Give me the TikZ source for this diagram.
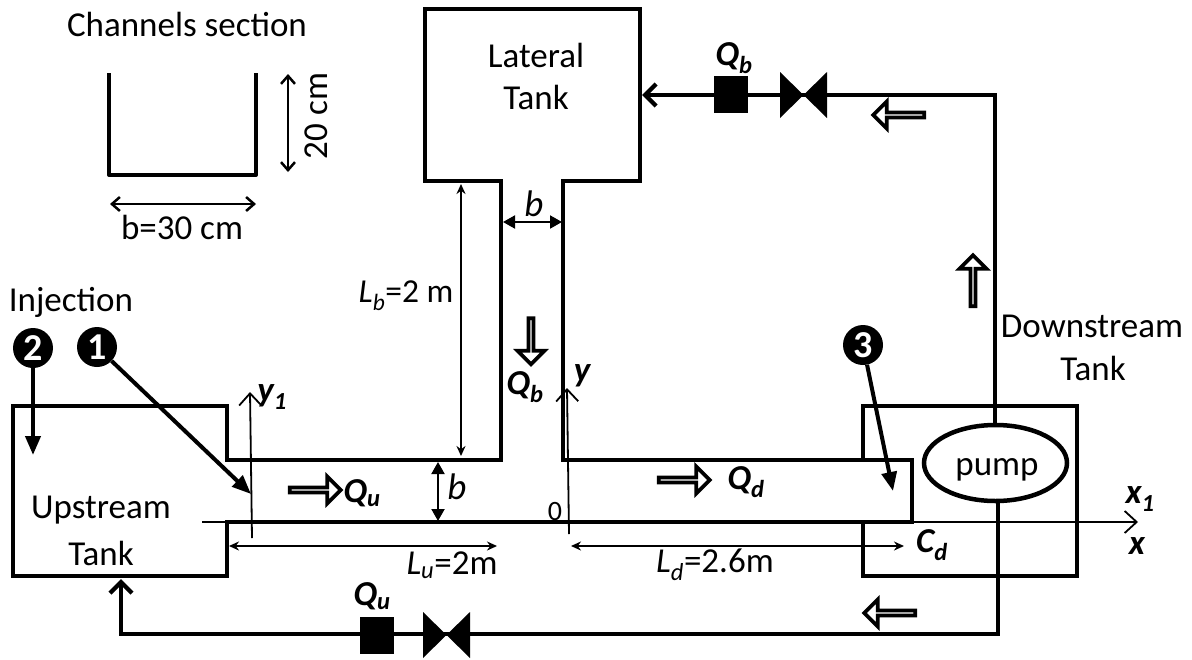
\documentclass[tikz,border=0pt]{standalone}
\usepackage{fontspec}
\setmainfont{Carlito}
\usetikzlibrary{arrows.meta,shapes.geometric,shapes.arrows}
\newcommand{\lbl}{\fontsize{35}{38}\selectfont}
\newcommand{\lblb}{\fontsize{35}{38}\selectfont\bfseries\itshape}
\tikzset{
  wall/.style={line width=4.5pt,line join=miter},
  pipearrow/.style={line width=4.3pt,-{Straight Barb[length=11pt,width=22pt,line width=4.3pt]}},
  probe/.style={line width=4pt,-{Triangle[length=19pt,width=15pt]}},
  dim/.style={line width=1.8pt,{Stealth[length=10pt,width=9pt]}-{Stealth[length=10pt,width=9pt]}},
  dimfat/.style={line width=2pt,{Triangle[length=12pt,width=13pt]}-{Triangle[length=12pt,width=13pt]}},
  secdim/.style={line width=2.5pt,{Straight Barb[length=8pt,width=14pt,line width=2.5pt]}-{Straight Barb[length=8pt,width=14pt,line width=2.5pt]}},
  axis/.style={line width=1.8pt,-{Straight Barb[length=12pt,width=22pt,line width=1.8pt]}},
  txt/.style={inner sep=0pt,font=\lbl,align=center},
  sym/.style={inner sep=0pt,font=\lblb},
  flow/.style={shape=single arrow,draw=black,fill=white,line width=3.6pt,inner sep=0pt,
    minimum width=27pt,minimum height=51pt,single arrow head extend=8pt,single arrow tip angle=90,
    single arrow head indent=0pt},
  meter/.style={fill=black,draw=none,inner sep=0pt,minimum width=34pt,minimum height=37pt},
  badge/.style={circle,fill=black,inner sep=0pt,minimum size=40pt,text=white,font=\fontsize{38}{38}\selectfont\bfseries},
}
\begin{document}
\begin{tikzpicture}[x=1pt,y=-1pt]
\useasboundingbox (0,0) rectangle (1192,659);
% channel network with upstream opening and lateral tank
\draw[wall] (227,460) -- (227,406) -- (13,406) -- (13,576) -- (227,576) -- (227,522) -- (912,522) -- (912,460) -- (563,460) -- (563,181) -- (640,181) -- (640,9) -- (425,9) -- (425,181) -- (501,181) -- (501,460) -- cycle;
% downstream tank
\draw[wall] (863,460) -- (863,406) -- (1077,406) -- (1077,576) -- (863,576) -- (863,522);
% section
\draw[line width=4pt,line join=round] (109,73) -- (109,175) -- (256,175) -- (256,73);
\coordinate (sv1) at (288,74); \coordinate (sv2) at (288,172);
\draw[secdim] (sv1) -- (sv2);
\coordinate (sh1) at (110,204); \coordinate (sh2) at (256,204);
\draw[secdim] (sh1) -- (sh2);
\node[txt] (sect) at (187,24) {Channels section};
\node[txt,rotate=90] (h20) at (316,116) {20 cm};
\node[txt] (b30) at (182,227) {b=30 cm};
% pump + pipes
\node[draw,line width=4.5pt,ellipse,minimum width=143pt,minimum height=76pt,inner sep=0pt,fill=white] (pump) at (995.5,463) {};
\node[txt] (pumplbl) at (997,470) {pump};
\node[txt] (lat1) at (536,55) {Lateral};
\node[txt] (lat2) at (536,97) {Tank};
\coordinate (ltank) at (642,95);
\coordinate (utank) at (121,579);
\coordinate (tr) at (995,95);
\coordinate (br) at (998,634);
\coordinate (bl) at (121,634);
\draw[pipearrow] (pump.north -| tr) -- (tr) -- (ltank);
\draw[pipearrow] (pump.south -| br) -- (br) -- (bl) -- (utank);
\node[meter] (mb) at (731,94.5) {};
\node[meter] (mu) at (376.5,635.5) {};
\draw[fill=black,draw=none] (780,72) -- (827,118) -- (827,72) -- (780,118) -- cycle;
\draw[fill=black,draw=none] (423,612) -- (470,658) -- (470,612) -- (423,658) -- cycle;
\node[sym] (qbt) at (734,58) {Q\textsubscript{b}};
\node[sym] (qub) at (372,596) {Q\textsubscript{u}};
% flow arrows
\node[flow,shape border rotate=180] (f1) at (900,115) {};
\node[flow,shape border rotate=90] (f2) at (973,282) {};
\node[flow,shape border rotate=270,minimum height=46pt] (f3) at (531,340) {};
\node[flow] (f4) at (314,490) {};
\node[flow] (f5) at (683,480) {};
\node[flow,shape border rotate=180] (f6) at (891,613) {};
% axis
\coordinate (x0) at (202,522); \coordinate (x1) at (1138,522);
\draw[axis] (x0) -- (x1);
\coordinate (y10) at (252,538); \coordinate (y11) at (250,392);
\draw[axis] (y10) -- (y11);
\coordinate (y0) at (569,534); \coordinate (y1) at (567,388);
\draw[axis] (y0) -- (y1);
% dims
\coordinate (a1) at (229,546); \coordinate (a2) at (497,546);
\draw[dim] (a1) -- (a2);
\coordinate (a3) at (571,546); \coordinate (a4) at (904,546);
\draw[dim] (a3) -- (a4);
\coordinate (a5) at (461,184); \coordinate (a6) at (461,456);
\draw[dim] (a5) -- (a6);
\coordinate (a7) at (438,462); \coordinate (a8) at (438,521);
\draw[dimfat] (a7) -- (a8);
\coordinate (a9) at (503,222); \coordinate (a10) at (562,222);
\draw[dimfat] (a9) -- (a10);
% badges
\node[badge] (n2) at (33,348) {2};
\node[badge] (n1) at (97,347) {1};
\node[badge] (n3) at (863,345) {3};
\coordinate (t2) at (33,455);
\coordinate (t1) at (251,494);
\coordinate (t3) at (893,491);
\draw[probe] (n2) -- (t2);
\draw[probe] (n1) -- (t1);
\draw[probe] (n3) -- (t3);
% labels
\node[txt] (inj) at (71,302) {Injection};
\node[txt] (up1) at (101,510) {Upstream};
\node[txt] (up2) at (101,553) {Tank};
\node[txt] (dn1) at (1092,326) {Downstream};
\node[txt] (dn2) at (1093,368) {Tank};
\node[txt,font=\fontsize{33.5}{38}\selectfont] (lb) at (406,296) {\textit{L\textsubscript{b}}=2 m};
\node[txt] (lu) at (452,565) {\textit{L\textsubscript{u}}=2m};
\node[txt] (ld) at (715,565) {\textit{L\textsubscript{d}}=2.6m};
\node[txt,font=\fontsize{37}{38}\selectfont\itshape] (bb) at (457,487) {b};
\node[txt,font=\fontsize{37}{38}\selectfont\itshape] (bt) at (534,204) {b};
\node[txt,font=\fontsize{28}{28}\selectfont] (zero) at (555,512) {0};
\node[sym] (qu) at (362,493) {Q\textsubscript{u}};
\node[sym] (qd) at (746,482) {Q\textsubscript{d}};
\node[sym] (qb) at (525,387) {Q\textsubscript{b}};
\node[sym] (cd) at (932,545) {C\textsubscript{d}};
\node[sym] (ya) at (582,376) {y};
\node[sym] (y1a) at (272,397) {y\textsubscript{1}};
\node[sym] (x1a) at (1140,499) {x\textsubscript{1}};
\node[sym] (xa) at (1137,546) {x};
\end{tikzpicture}
\end{document}
